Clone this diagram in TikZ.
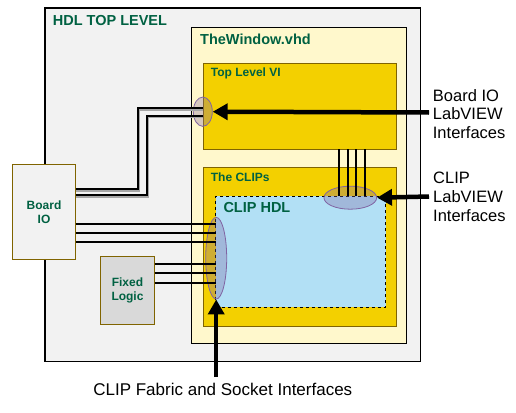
\documentclass[tikz,border=0pt]{standalone}
\usepackage{fontspec}
\setmainfont{Liberation Sans}
\usetikzlibrary{arrows.meta,shapes.geometric}
\definecolor{bggray}{RGB}{242,242,242}
\definecolor{ltyellow}{RGB}{255,248,204}
\definecolor{gold}{RGB}{243,208,0}
\definecolor{olive}{RGB}{128,100,0}
\definecolor{ltblue}{RGB}{178,224,245}
\definecolor{fixgray}{RGB}{217,217,217}
\definecolor{tgreen}{RGB}{0,97,66}
\definecolor{ellpurple}{RGB}{128,100,162}
\tikzset{
  boxbase/.style={rectangle,anchor=north west,inner sep=0pt,outer sep=0pt},
  outerbox/.style={boxbase,draw=black,line width=1.2pt,fill=bggray},
  winbox/.style={boxbase,draw=black,line width=1pt,fill=ltyellow},
  goldbox/.style={boxbase,draw=olive,line width=1pt,fill=gold},
  hdlbox/.style={boxbase,draw=black,line width=1pt,dashed,fill=ltblue},
  iobox/.style={boxbase,draw=olive,line width=1pt,fill=bggray},
  fixbox/.style={boxbase,draw=olive,line width=1pt,fill=fixgray},
  lbl/.style={inner sep=0pt,text=tgreen,font=\bfseries\fontsize{12}{14}\selectfont},
  biglbl/.style={inner sep=0pt,text=tgreen,font=\bfseries\fontsize{14.5}{17}\selectfont},
  sidelbl/.style={inner sep=0pt,align=left,font=\fontsize{16.5}{18.7}\selectfont},
  iface/.style={ellipse,inner sep=0pt,draw=ellpurple,line width=0.8pt,fill=ellpurple,fill opacity=0.32,draw opacity=1},
  wire/.style={line width=2pt,black},
  shadowwire/.style={line width=2pt,black!35},
  bigarrow/.style={line width=4.5pt,-{Triangle[length=15pt,width=16pt]}},
}
\begin{document}
\begin{tikzpicture}[x=1pt,y=-1pt]
\useasboundingbox (0,0) rectangle (516,412);
% boxes
\node[outerbox,minimum width=375.7pt,minimum height=353.7pt] (hdl) at (45,8) {};
\node[winbox,minimum width=215pt,minimum height=315.6pt] (win) at (191.7,27.7) {};
\node[goldbox,minimum width=193.4pt,minimum height=86pt] (tlvi) at (203.3,63.3) {};
\node[goldbox,minimum width=193.4pt,minimum height=158.7pt] (clips) at (203.3,167.3) {};
\node[hdlbox,minimum width=170pt,minimum height=111.3pt] (clip) at (215.7,196) {};
\node[iobox,minimum width=63.4pt,minimum height=95pt] (bio) at (12.3,164.3) {};
\node[fixbox,minimum width=54.4pt,minimum height=67.6pt] (fix) at (100.3,256.7) {};
% titles
\node[biglbl,anchor=base west] (thdl) at (52.7,25.7) {HDL TOP LEVEL};
\node[biglbl,anchor=base west] (twin) at (200,45) {TheWindow.vhd};
\node[lbl,anchor=base west] (ttlvi) at (210.7,76.7) {Top Level VI};
\node[lbl,anchor=base west] (tclips) at (210.7,181.7) {The CLIPs};
\node[biglbl,anchor=base west] (tclip) at (223.3,212.7) {CLIP HDL};
\node[lbl,align=center] (tbio) at (bio.center) {Board\\IO};
\node[lbl,align=center] (tfix) at (fix.center) {Fixed\\Logic};
% interface ellipses
\node[iface,minimum width=19pt,minimum height=29.3pt] (e1) at (202.8,111.7) {};
\node[iface,minimum width=52.7pt,minimum height=23pt] (e2) at (350.3,197.7) {};
\node[iface,minimum width=21pt,minimum height=81.7pt] (e3) at (216.2,258.2) {};
% wires Board IO -> Top Level VI
\begin{scope}[shift={(1.6,1.6)}]
\draw[shadowwire] (bio.east |- 0,189) -- (137.7,189) -- (137.7,108.3) -- (tlvi.west |- 0,108.3);
\draw[shadowwire] (bio.east |- 0,195) -- (146.7,195) -- (146.7,115.7) -- (tlvi.west |- 0,115.7);
\end{scope}
\draw[wire] (bio.east |- 0,189) -- (137.7,189) -- (137.7,108.3) -- (tlvi.west |- 0,108.3);
\draw[wire] (bio.east |- 0,195) -- (146.7,195) -- (146.7,115.7) -- (tlvi.west |- 0,115.7);
% wires Board IO -> CLIP HDL
\foreach \yy in {223.5,232.7,241.7}{
  \draw[wire] (bio.east |- 0,\yy) -- (clip.west |- 0,\yy);
}
% wires Fixed Logic -> CLIP HDL
\foreach \yy in {263.7,273,282.7}{
  \draw[wire] (fix.east |- 0,\yy) -- (clip.west |- 0,\yy);
}
% wires Top Level VI -> CLIP HDL
\foreach \xx in {339,347.7,356,365}{
  \draw[wire] (tlvi.south -| \xx,0) -- (clip.north -| \xx,0);
}
% side labels
\node[sidelbl,anchor=north west] (lab1) at (432.7,89) {Board IO\\LabVIEW\\Interfaces};
\node[sidelbl,anchor=north west] (lab2) at (433,172) {CLIP\\LabVIEW\\Interfaces};
\node[inner sep=0pt,font=\fontsize{17}{19}\selectfont,anchor=base] (lab3) at (222.8,395) {CLIP Fabric and Socket Interfaces};
% arrows
\coordinate (a1) at (429,112.5);
\coordinate (a2) at (429,196.5);
\coordinate (a3) at (216.2,377);
\draw[bigarrow] (a1) -- (e1.east);
\draw[bigarrow] (a2) -- (e2.east);
\draw[bigarrow] (a3) -- (e3.south);
\end{tikzpicture}
\end{document}
